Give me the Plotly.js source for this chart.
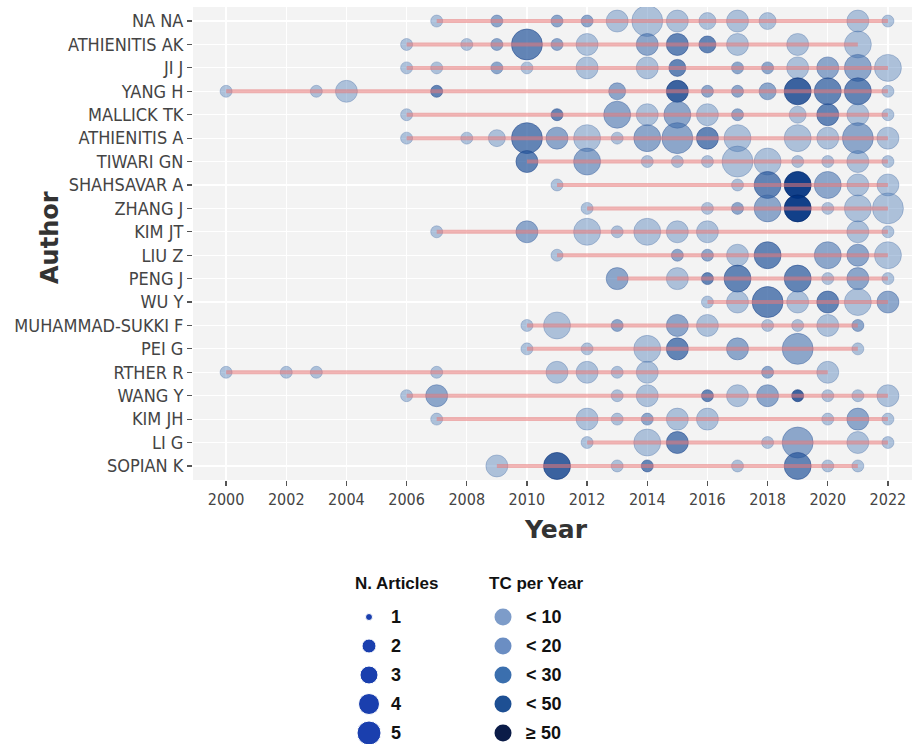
<!DOCTYPE html>
<html>
<head>
<meta charset="utf-8">
<script src="https://cdn.plot.ly/plotly-3.0.1.min.js"></script>
<style>html,body{margin:0;padding:0;background:#fff;}#chart{width:917px;height:744px;}</style>
</head>
<body>
<div id="chart"></div>
<script>
// ---- data ----
const authors = ["NA NA","ATHIENITIS AK","JI J","YANG H","MALLICK TK","ATHIENITIS A","TIWARI GN","SHAHSAVAR A","ZHANG J","KIM JT","LIU Z","PENG J","WU Y","MUHAMMAD-SUKKI F","PEI G","RTHER R","WANG Y","KIM JH","LI G","SOPIAN K"];

const yearsBy = [
  [2007,2009,2011,2012,2013,2014,2015,2016,2017,2018,2021,2022],
  [2006,2008,2009,2010,2011,2012,2014,2015,2016,2017,2019,2021],
  [2006,2007,2009,2010,2012,2014,2015,2017,2018,2019,2020,2021,2022],
  [2000,2003,2004,2007,2013,2015,2016,2017,2018,2019,2020,2021,2022],
  [2006,2011,2013,2014,2015,2016,2017,2019,2020,2021,2022],
  [2006,2008,2009,2010,2011,2012,2013,2014,2015,2016,2017,2019,2020,2021,2022],
  [2010,2012,2014,2015,2016,2017,2018,2019,2020,2021,2022],
  [2011,2017,2018,2019,2020,2021,2022],
  [2012,2016,2017,2018,2019,2020,2021,2022],
  [2007,2010,2012,2013,2014,2015,2016,2021,2022],
  [2011,2015,2016,2017,2018,2020,2021,2022],
  [2013,2015,2016,2017,2019,2020,2021,2022],
  [2016,2017,2018,2019,2020,2021,2022],
  [2010,2011,2013,2015,2016,2018,2019,2020,2021],
  [2010,2012,2014,2015,2017,2019,2021],
  [2000,2002,2003,2007,2011,2012,2013,2014,2018,2020],
  [2006,2007,2013,2014,2016,2017,2018,2019,2020,2021,2022],
  [2007,2012,2013,2014,2015,2016,2020,2021,2022],
  [2012,2014,2015,2018,2019,2021,2022],
  [2009,2011,2013,2014,2017,2019,2020,2021]
];

const articlesBy = [
  [1,1,1,1,3,5,3,2,3,2,3,1],
  [1,1,1,5,1,3,3,3,2,3,3,4],
  [1,1,1,1,3,3,2,1,1,3,3,4,4],
  [1,1,3,1,2,3,1,1,2,4,4,4,1],
  [1,1,4,3,4,3,1,2,3,3,1],
  [1,1,2,5,3,4,1,4,5,3,4,4,3,5,3],
  [3,4,1,1,1,5,4,1,1,3,1],
  [1,1,4,4,4,3,3],
  [1,1,1,4,4,1,4,5],
  [1,3,4,1,4,3,3,3,1],
  [1,1,1,3,4,4,3,4],
  [3,3,1,4,4,1,3,1],
  [1,3,5,3,3,4,3],
  [1,4,1,3,3,1,1,3,1],
  [1,1,4,3,3,5,1],
  [1,1,1,1,3,3,1,3,1,3],
  [1,3,1,3,1,3,3,1,1,1,3],
  [1,3,1,1,3,3,1,3,1],
  [1,4,3,1,5,3,1],
  [3,4,1,1,1,4,1,1]
];

// TC per year class: 0 "<10", 1 "<20", 2 "<30", 3 "<50", 4 ">=50"
const tcBy = [
  [0,1,1,1,0,0,0,0,0,0,0,0],
  [0,0,1,2,1,0,1,2,2,0,0,0],
  [0,0,1,0,0,0,2,1,1,0,1,1,0],
  [0,0,0,2,1,3,1,1,1,3,2,2,0],
  [0,2,1,0,1,0,1,0,2,0,0],
  [0,0,0,2,1,0,0,1,1,2,0,0,0,1,0],
  [2,1,0,0,0,0,0,0,0,0,0],
  [0,0,2,4,1,0,0],
  [0,0,1,1,4,0,0,0],
  [0,1,0,0,0,0,0,0,0],
  [0,1,1,0,2,1,1,0],
  [1,0,2,2,2,0,1,0],
  [0,0,2,0,2,0,1],
  [0,0,1,1,0,0,0,0,1],
  [0,0,0,2,1,1,0],
  [0,0,0,0,0,0,0,0,1,0],
  [0,1,0,0,2,0,1,3,0,0,0],
  [0,0,0,1,0,0,0,1,0],
  [0,0,2,0,1,0,0],
  [0,3,0,2,0,2,0,0]
];

const xTickYears = [2000,2002,2004,2006,2008,2010,2012,2014,2016,2018,2020,2022];
const articleLevels = [1,2,3,4,5];
const tcLevels = ["< 10","< 20","< 30","< 50","\u2265 50"];

// ---- styles ----
const sizePx = [12,17,22,27,31];
const tcFill = ["rgba(74,122,181,0.42)","rgba(58,106,170,0.56)","rgba(36,84,154,0.7)","rgba(18,66,140,0.82)","rgba(0,50,128,0.93)"];
const tcEdge = ["rgba(60,100,160,0.3)","rgba(50,90,155,0.4)","rgba(30,70,140,0.5)","rgba(15,55,125,0.6)","rgba(0,40,110,0.7)"];
const legendArticleSize = [7,14,18,21,24];
const legendTcColor = ["#7d9cc9","#6b8ec3","#3b6fae","#1d4f93","#0b1c48"];

// ---- build traces ----
const bx=[], by=[], bs=[], bc=[], be=[];
authors.forEach((a,i)=>{
  yearsBy[i].forEach((yr,j)=>{
    bx.push(yr); by.push(a);
    bs.push(sizePx[articlesBy[i][j]-1]);
    bc.push(tcFill[tcBy[i][j]]);
    be.push(tcEdge[tcBy[i][j]]);
  });
});
const lx=[], ly=[];
authors.forEach((a,i)=>{
  lx.push(Math.min(...yearsBy[i]), Math.max(...yearsBy[i]), null);
  ly.push(a, a, null);
});

const bubbles = {type:'scatter', mode:'markers', x:bx, y:by, xaxis:'x', yaxis:'y',
  marker:{size:bs, color:bc, opacity:1, line:{color:be, width:1}}, hoverinfo:'x+y', showlegend:false};
const lines = {type:'scatter', mode:'lines', x:lx, y:ly, xaxis:'x', yaxis:'y', connectgaps:false,
  line:{color:'rgba(232,118,118,0.55)', width:4}, hoverinfo:'skip', showlegend:false};

const legA = {type:'scatter', mode:'markers', x:articleLevels.map(()=>0), y:articleLevels.map((v,i)=>i),
  xaxis:'x2', yaxis:'y2', marker:{size:legendArticleSize, color:'#1a3fae', opacity:1}, hoverinfo:'skip', showlegend:false};
const legT = {type:'scatter', mode:'markers', x:tcLevels.map(()=>1), y:tcLevels.map((v,i)=>i),
  xaxis:'x2', yaxis:'y2', marker:{size:17, color:legendTcColor, opacity:1}, hoverinfo:'skip', showlegend:false};

const legFont = {family:'Liberation Sans, Arial, sans-serif', size:18, color:'#111'};
const annotations = [
  {text:'<b>Year</b>', xref:'paper', yref:'paper', x:0.505, y:(744-529)/737, xanchor:'center', yanchor:'middle', showarrow:false,
   font:{family:'DejaVu Sans, sans-serif', size:25, color:'#333'}},
  {text:'<b>Author</b>', xref:'paper', yref:'paper', x:(50-193)/719, y:(744-238)/737, xanchor:'center', yanchor:'middle', textangle:-90, showarrow:false,
   font:{family:'DejaVu Sans, sans-serif', size:24, color:'#333'}},
  {text:'<b>N. Articles</b>', xref:'x2', yref:'y2', x:-0.12, y:-1.17, xanchor:'left', yanchor:'middle', showarrow:false,
   font:{family:legFont.family, size:17, color:'#111'}},
  {text:'<b>TC per Year</b>', xref:'x2', yref:'y2', x:1-0.12, y:-1.17, xanchor:'left', yanchor:'middle', showarrow:false,
   font:{family:legFont.family, size:17, color:'#111'}}
];
articleLevels.forEach((v,i)=>annotations.push({text:'<b>'+v+'</b>', xref:'x2', yref:'y2', x:0.15, y:i, xanchor:'left', yanchor:'middle', showarrow:false, font:legFont}));
tcLevels.forEach((v,i)=>annotations.push({text:'<b>'+v+'</b>', xref:'x2', yref:'y2', x:1.16, y:i, xanchor:'left', yanchor:'middle', showarrow:false, font:legFont}));

const layout = {
  width:917, height:744,
  margin:{l:193, r:5, t:7, b:0},
  paper_bgcolor:'#ffffff', plot_bgcolor:'rgba(0,0,0,0)',
  showlegend:false,
  shapes:[{type:'rect', xref:'x domain', yref:'y domain', x0:0, x1:1, y0:0, y1:1, layer:'below',
           fillcolor:'#f3f3f3', line:{width:0}}],
  xaxis:{domain:[0,1], anchor:'y', range:[1998.9,2022.8], tickvals:xTickYears, ticktext:xTickYears.map(String),
    ticks:'outside', ticklen:5, tickcolor:'#555', tickwidth:1.2, showgrid:true, gridcolor:'#ffffff', gridwidth:1.2,
    zeroline:false, showline:false,
    tickfont:{family:'DejaVu Sans Condensed, DejaVu Sans, sans-serif', size:16, color:'#444'}},
  yaxis:{domain:[264/737,1], anchor:'x', type:'category', categoryorder:'array', categoryarray:authors, range:[19.6,-0.6],
    ticks:'outside', ticklen:5, tickcolor:'#555', tickwidth:1.2, showgrid:true, gridcolor:'#ffffff', gridwidth:1.2,
    zeroline:false, showline:false,
    tickfont:{family:'DejaVu Sans Condensed, DejaVu Sans, sans-serif', size:18, color:'#444'}},
  xaxis2:{domain:[(300-193)/719,(700-193)/719], anchor:'y2', range:[-0.515,2.47], visible:false, showgrid:false, fixedrange:true},
  yaxis2:{domain:[0,(744-565)/737], anchor:'x2', range:[4.379,-1.793], visible:false, showgrid:false, fixedrange:true},
  annotations:annotations
};

Plotly.newPlot('chart', [bubbles, lines, legA, legT], layout, {displayModeBar:false, staticPlot:true});
</script>
</body>
</html>
